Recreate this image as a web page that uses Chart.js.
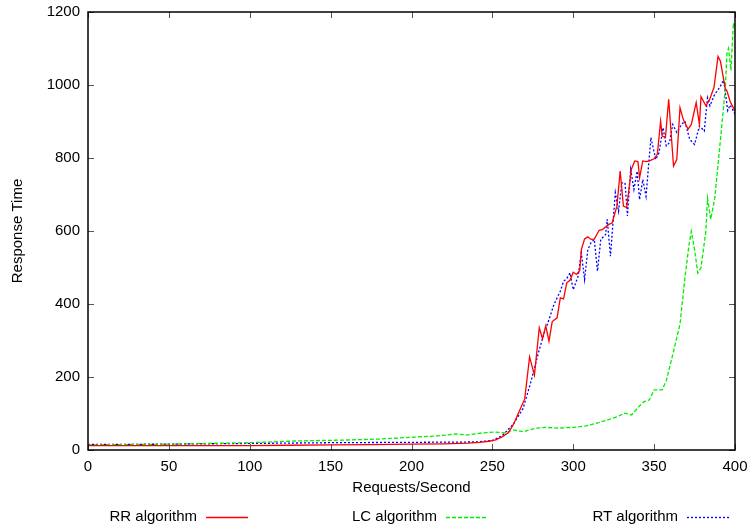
<!DOCTYPE html>
<html>
<head>
<meta charset="utf-8">
<script src="https://cdn.jsdelivr.net/npm/chart.js@4/dist/chart.umd.min.js"></script>
<style>
  html, body { margin: 0; padding: 0; background: #fff; }
  #wrap { width: 748px; height: 528px; position: relative; }
</style>
</head>
<body>
<div id="wrap"><canvas id="chart"></canvas></div>
<script>
// Response time vs. request rate, three load balancing algorithms
const seriesLabels = ['RR algorithm', 'LC algorithm', 'RT algorithm'];
const xTicks = [0, 50, 100, 150, 200, 250, 300, 350, 400];
const yTicks = [0, 200, 400, 600, 800, 1000, 1200];

const rrX = [0, 25, 50, 75, 100, 125, 150, 175, 200, 220, 235, 242, 248, 252, 256, 260, 263, 266, 270, 273,
    276, 279, 281, 283, 285, 287, 290, 292, 294, 296, 298, 300, 302, 304, 305, 307, 309, 311, 313, 316,
    318, 320, 322, 324, 327, 329, 331, 333, 336, 338, 340, 341, 343, 345, 347, 350, 352, 354, 355, 357,
    359, 362, 364, 366, 368, 371, 373, 376, 378, 379, 382, 384, 387, 389.5, 391, 394, 395, 397, 400];
const rrY = [12, 12, 12, 12, 12, 13, 14, 15, 16, 17, 19, 21, 24, 28, 36, 48, 70, 100, 140, 255,
    205, 335, 305, 340, 298, 352, 362, 417, 414, 458, 465, 487, 481, 492, 549, 578, 584, 577, 578, 602,
    604, 611, 618, 622, 668, 764, 668, 664, 770, 792, 790, 746, 792, 790, 792, 798, 810, 901, 860, 856,
    961, 778, 796, 938, 906, 879, 892, 952, 892, 968, 943, 957, 993, 1078, 1065, 990, 984, 955, 929];

const lcX = [0, 50, 100, 131, 156, 180, 201, 217, 228, 234, 244, 251, 258, 263, 269, 277, 283, 291, 300, 308,
    314, 321, 327, 332, 336, 341, 344, 347, 350, 355, 357.5, 362, 366, 369, 371.5, 373, 375, 377, 379, 382,
    383, 385, 387.5, 391, 394, 395, 396, 397.5, 399, 400];
const lcY = [14, 16, 20, 25, 27, 30, 35, 39, 44, 41, 47, 49, 47, 55, 50, 60, 62, 60, 62, 66,
    73, 82, 91, 101, 96, 121, 133, 137, 165, 165, 190, 270, 345, 470, 560, 599, 549, 485, 500, 600,
    690, 632, 690, 850, 990, 1085, 1100, 1040, 1170, 1160];

const rtX = [0, 50, 100, 150, 200, 240, 250, 256, 263, 269, 273, 276, 279, 282, 285, 288, 292, 294, 296, 298,
    300, 303, 305, 307, 309, 311, 313, 315, 317, 320, 321, 323, 326, 328, 330, 332, 333.5, 335.5, 337.5, 339.5,
    341, 343, 345, 348, 351, 353, 355.5, 357.5, 359.5, 361.5, 364, 367, 369, 372, 375, 378, 381, 383, 384.5, 387.5,
    390.5, 393, 395.5, 397, 400];
const rtY = [15, 16, 18, 20, 21, 22, 26, 39, 71, 114, 174, 224, 275, 320, 357, 398, 435, 462, 470, 485,
    439, 476, 540, 467, 549, 568, 577, 490, 577, 590, 632, 531, 705, 654, 732, 732, 641, 769, 714, 764,
    686, 741, 695, 856, 796, 814, 883, 833, 842, 892, 870, 892, 901, 851, 837, 888, 874, 965, 943, 975,
    993, 1013, 930, 945, 920];

const FONT = '"Liberation Sans", Arial, Helvetica, sans-serif';
const zip = (xs, ys) => xs.map((x, i) => ({ x: x, y: ys[i] }));

// keep the plot box fixed: labels are allowed to hang into the page margins
function noEdgePadding(axis) {
    axis.paddingTop = 0;
    axis.paddingBottom = 0;
    axis.paddingLeft = 0;
    axis.paddingRight = 0;
}

// gnuplot style frame with inward ticks on all four sides
const framePlugin = {
    id: 'frame',
    afterDraw(chart) {
        const { ctx, chartArea: a, scales } = chart;
        ctx.save();
        ctx.strokeStyle = '#555';
        ctx.lineWidth = 1;
        ctx.beginPath();
        xTicks.forEach(v => {
            const px = Math.round(scales.x.getPixelForValue(v)) + 0.5;
            ctx.moveTo(px, a.bottom); ctx.lineTo(px, a.bottom - 6);
            ctx.moveTo(px, a.top); ctx.lineTo(px, a.top + 6);
        });
        yTicks.forEach(v => {
            const py = Math.round(scales.y.getPixelForValue(v)) + 0.5;
            ctx.moveTo(a.left, py); ctx.lineTo(a.left + 6, py);
            ctx.moveTo(a.right, py); ctx.lineTo(a.right - 6, py);
        });
        ctx.stroke();
        ctx.strokeStyle = '#000';
        ctx.lineWidth = 1.5;
        ctx.strokeRect(a.left, a.top, a.right - a.left, a.bottom - a.top);
        ctx.restore();
    }
};

// legend below the plot: label first, then line sample
const legendPlugin = {
    id: 'bottomLegend',
    afterDraw(chart) {
        const { ctx } = chart;
        const textRight = [197, 437, 678];
        const y = 517;
        ctx.save();
        ctx.font = '15px ' + FONT;
        ctx.textAlign = 'right';
        ctx.textBaseline = 'middle';
        chart.data.datasets.forEach((ds, i) => {
            ctx.fillStyle = '#000';
            ctx.fillText(ds.label, textRight[i], y);
            ctx.strokeStyle = ds.borderColor;
            ctx.lineWidth = ds.borderWidth;
            ctx.setLineDash(ds.borderDash || []);
            ctx.beginPath();
            ctx.moveTo(textRight[i] + 9, y + 0.5);
            ctx.lineTo(textRight[i] + 51, y + 0.5);
            ctx.stroke();
        });
        ctx.restore();
    }
};

new Chart(document.getElementById('chart'), {
    type: 'line',
    data: {
        datasets: [
            {
                label: seriesLabels[0],
                data: zip(rrX, rrY),
                borderColor: '#ff0000',
                borderWidth: 1.3,
                pointRadius: 0,
                fill: false,
            },
            {
                label: seriesLabels[1],
                data: zip(lcX, lcY),
                borderColor: '#00ee00',
                borderWidth: 1.3,
                borderDash: [4, 2],
                pointRadius: 0,
                fill: false,
            },
            {
                label: seriesLabels[2],
                data: zip(rtX, rtY),
                borderColor: '#0000ff',
                borderWidth: 1.3,
                borderDash: [2, 2],
                pointRadius: 0,
                fill: false,
            },
        ],
    },
    options: {
        responsive: true,
        maintainAspectRatio: false,
        animation: false,
        layout: { padding: { top: 12, right: 13, left: 0, bottom: 31 } },
        plugins: {
            legend: { display: false },
            tooltip: { enabled: false },
        },
        scales: {
            x: {
                type: 'linear',
                min: 0,
                max: 400,
                afterBuildTicks: (axis) => { axis.ticks = xTicks.map(v => ({ value: v })); },
                afterFit: (axis) => { axis.height = 47; noEdgePadding(axis); },
                ticks: { color: '#000', font: { family: FONT, size: 15 }, padding: 8, maxRotation: 0,
                    callback: (v) => String(v) },
                grid: { display: false, drawTicks: false, tickLength: 0 },
                border: { display: false },
                title: { display: true, text: 'Requests/Second', color: '#000', font: { family: FONT, size: 15 }, padding: { top: 0, bottom: 0 } },
            },
            y: {
                type: 'linear',
                min: 0,
                max: 1200,
                afterBuildTicks: (axis) => { axis.ticks = yTicks.map(v => ({ value: v })); },
                afterFit: (axis) => { axis.width = 88; noEdgePadding(axis); },
                ticks: { color: '#000', font: { family: FONT, size: 15 }, padding: 8,
                    callback: (v) => String(v) },
                grid: { display: false, drawTicks: false, tickLength: 0 },
                border: { display: false },
                title: { display: true, text: 'Response Time', color: '#000', font: { family: FONT, size: 15 }, padding: { top: 9, bottom: 0 } },
            },
        },
    },
    plugins: [framePlugin, legendPlugin],
});
</script>
</body>
</html>
